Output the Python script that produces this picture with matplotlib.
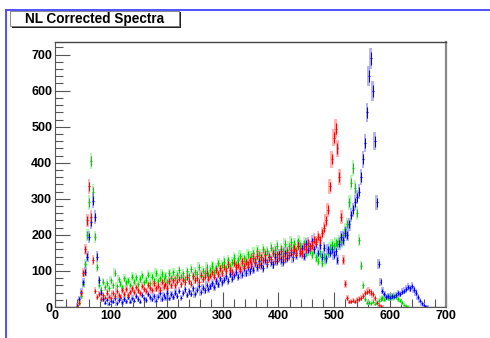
import numpy as np
import matplotlib
matplotlib.use("Agg")
import matplotlib.pyplot as plt
from matplotlib.patches import Rectangle
from matplotlib.lines import Line2D
from matplotlib.ticker import MultipleLocator

plt.rcParams['font.family'] = ['Liberation Sans', 'DejaVu Sans']

title = "NL Corrected Spectra"
bin_width = 3.5
x_low, x_high = 0, 700
x_ticks = [0, 100, 200, 300, 400, 500, 600, 700]
y_ticks = [0, 100, 200, 300, 400, 500, 600, 700]

red_counts = [
    0, 0, 0, 0, 0, 0, 0, 0, 0, 0, 0, 3, 12, 38, 95, 160, 240, 335, 250, 130,
    45, 28, 36, 22, 33, 26, 40, 29, 24, 38, 31, 44, 33, 29, 47, 36, 50, 34, 42, 52,
    41, 55, 46, 38, 58, 50, 44, 62, 53, 47, 66, 52, 59, 48, 70, 56, 63, 54, 72, 60,
    74, 60, 70, 79, 63, 76, 68, 83, 72, 65, 86, 75, 80, 70, 90, 78, 84, 95, 79, 87,
    96, 84, 102, 91, 108, 95, 112, 100, 118, 104, 97, 121, 110, 116, 105, 127, 113, 124, 118, 131,
    120, 135, 126, 142, 118, 138, 130, 145, 124, 140, 133, 150, 128, 146, 137, 155, 141, 134, 152, 143,
    158, 146, 163, 151, 170, 155, 148, 168, 160, 178, 165, 172, 188, 180, 195, 186, 205, 218, 240, 270,
    335, 410, 470, 495, 440, 360, 250, 130, 65, 25, 14, 16, 18, 15, 20, 22, 25, 30, 38, 42,
    45, 40, 35, 25, 12, 6, 3, 1, 0, 0, 0, 0, 0, 0, 0, 0, 0, 0, 0, 0,
    0, 0, 0, 0, 0, 0, 0, 0, 0, 0, 0, 0, 0, 0, 0, 0, 0, 0, 0, 0,
]

green_counts = [
    0, 0, 0, 0, 0, 0, 0, 0, 0, 0, 0, 2, 10, 30, 65, 120, 200, 290, 405, 320,
    195, 110, 62, 48, 70, 55, 66, 52, 74, 60, 95, 58, 77, 65, 54, 80, 68, 73, 61, 84,
    70, 82, 63, 78, 88, 69, 75, 90, 66, 84, 73, 95, 71, 80, 92, 76, 86, 70, 94, 81,
    96, 80, 89, 102, 84, 93, 78, 99, 88, 106, 85, 97, 91, 110, 87, 101, 95, 112, 90, 104,
    115, 98, 108, 121, 104, 117, 126, 109, 131, 114, 124, 137, 118, 130, 142, 122, 135, 128, 146, 133,
    141, 150, 132, 156, 145, 138, 160, 148, 155, 142, 165, 151, 159, 170, 147, 162, 155, 175, 158, 168,
    180, 166, 175, 158, 182, 170, 162, 177, 150, 168, 156, 145, 160, 138, 128, 148, 122, 140, 132, 150,
    165, 172, 168, 178, 175, 183, 180, 200, 215, 230, 290, 345, 385, 330, 260, 185, 115, 60, 22, 12,
    12, 10, 15, 8, 12, 18, 22, 25, 20, 28, 24, 30, 26, 32, 28, 22, 18, 12, 6, 3,
    1, 0, 0, 0, 0, 0, 0, 0, 0, 0, 0, 0, 0, 0, 0, 0, 0, 0, 0, 0,
]

blue_counts = [
    0, 0, 0, 0, 0, 0, 0, 0, 0, 0, 0, 5, 22, 42, 68, 98, 140, 195, 235, 295,
    250, 140, 75, 40, 22, 12, 20, 9, 17, 14, 24, 10, 19, 26, 13, 22, 16, 28, 15, 24,
    18, 30, 22, 15, 33, 24, 19, 36, 27, 21, 31, 17, 29, 38, 22, 33, 26, 40, 24, 35,
    27, 40, 31, 45, 26, 38, 49, 33, 43, 37, 52, 35, 47, 58, 41, 54, 46, 61, 50, 57,
    66, 55, 72, 63, 80, 68, 76, 85, 73, 92, 79, 88, 97, 84, 101, 90, 108, 95, 112, 100,
    115, 104, 122, 110, 128, 116, 108, 131, 120, 138, 125, 118, 140, 128, 146, 132, 124, 150, 136, 144,
    152, 138, 160, 145, 170, 150, 163, 142, 175, 158, 168, 182, 160, 176, 150, 172, 140, 165, 135, 160,
    150, 160, 145, 155, 130, 175, 195, 185, 205, 200, 230, 255, 270, 290, 305, 320, 360, 410, 455, 540,
    640, 690, 600, 460, 290, 120, 70, 45, 35, 28, 30, 26, 31, 29, 34, 38, 36, 42, 45, 50,
    55, 52, 58, 48, 40, 28, 18, 10, 5, 2, 1, 0, 0, 0, 0, 0, 0, 0, 0, 0,
]

series = [
    (green_counts, "#00d000", "#9cf59c"),
    (blue_counts, "#0000ff", "#9d9dff"),
    (red_counts, "#ff0000", "#ff9d9d"),
]

W, H = 490, 338
fig = plt.figure(figsize=(W / 100, H / 100), dpi=100)
fig.patch.set_facecolor("white")

ax_l, ax_r, ax_t, ax_b = 55, 446, 42, 307
ax = fig.add_axes([ax_l / W, 1 - ax_b / H, (ax_r - ax_l) / W, (ax_b - ax_t) / H])

centers = x_low + bin_width * (np.arange(len(red_counts)) + 0.5)
for counts, dark, light in series:
    v = np.asarray(counts, dtype=float)
    band = 1.0 * np.sqrt(v) + 3.0
    band[v == 0] = 0
    nz = v > 0
    ax.bar(centers[nz], 2 * band[nz], bottom=v[nz] - band[nz], width=4.6,
           color=light, alpha=0.75, linewidth=0, zorder=2)
    err = 0.6 * np.sqrt(v) + 2.0
    err[v == 0] = 0
    ax.errorbar(centers, v, yerr=err, xerr=bin_width / 2, fmt="none",
                ecolor=dark, elinewidth=0.8, capsize=0, zorder=3)

ax.set_xlim(x_low, x_high)
ax.set_ylim(0, 735)
ax.set_xticks(x_ticks)
ax.set_yticks(y_ticks)
ax.xaxis.set_minor_locator(MultipleLocator(20))
ax.yaxis.set_minor_locator(MultipleLocator(20))
ax.tick_params(which="major", direction="in", length=11, width=0.8, color="#555555",
               top=False, right=False, labelsize=9, pad=2)
ax.tick_params(which="minor", direction="in", length=5.5, width=0.8, color="#555555",
               top=False, right=False)
for lab in ax.get_xticklabels() + ax.get_yticklabels():
    lab.set_fontweight("bold")
ax.spines["top"].set_color("#444444")
ax.spines["top"].set_linewidth(1.0)
ax.spines["right"].set_color("#888888")
ax.spines["right"].set_linewidth(1.6)
ax.spines["left"].set_color("#555555")
ax.spines["left"].set_linewidth(0.8)
ax.spines["bottom"].set_color("#555555")
ax.spines["bottom"].set_linewidth(0.8)

# canvas border (blue)
fig.add_artist(Line2D([6 / W, 1], [1 - 10 / H, 1 - 10 / H], color="#5050ff", lw=1.4,
                      transform=fig.transFigure))
fig.add_artist(Line2D([6 / W, 6 / W], [0, 1 - 10 / H], color="#5050ff", lw=1.4,
                      transform=fig.transFigure))

# title box with shadow
bx0, by0, bx1, by1 = 10, 11, 179, 26
fig.add_artist(Rectangle((bx0 / W + 1.5 / W, 1 - (by1 + 1.5) / H), (bx1 - bx0) / W, (by1 - by0) / H,
                         transform=fig.transFigure, facecolor="#222222", edgecolor="none"))
fig.add_artist(Rectangle((bx0 / W, 1 - by1 / H), (bx1 - bx0) / W, (by1 - by0) / H,
                         transform=fig.transFigure, facecolor="white", edgecolor="#777777", lw=0.6))
fig.text((bx0 + bx1) / 2 / W, 1 - (by0 + by1) / 2 / H, title, ha="center", va="center",
         fontsize=9.8, fontweight="bold", color="black")

fig.savefig("out.png", dpi=100, facecolor="white")
